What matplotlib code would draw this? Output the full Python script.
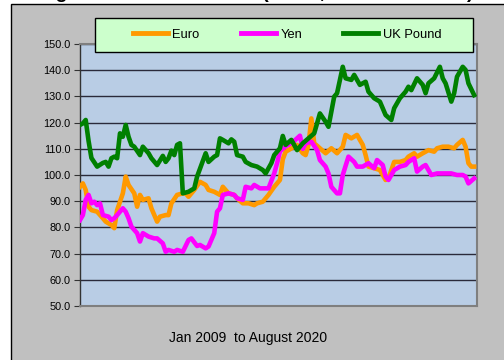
import matplotlib
matplotlib.use("Agg")
import matplotlib.pyplot as plt
from matplotlib.patches import Rectangle
from matplotlib.lines import Line2D
from matplotlib.ticker import FormatStrFormatter

plt.rcParams['font.family'] = ['Liberation Sans', 'DejaVu Sans']

# months since Jan 2009, index values
euro_months = [0, 1, 2, 3, 4, 6, 8, 9, 11, 12, 13, 15, 16, 17, 19, 20, 21, 22, 24, 25,
               27, 28, 30, 31, 32, 34, 36, 37, 38, 40, 42, 44, 45, 47, 49, 50, 52, 54, 55, 57,
               59, 61, 62, 64, 66, 68, 70, 71, 72, 73, 75, 76, 78, 79, 80, 81, 82, 84, 86, 88,
               90, 92, 93, 95, 97, 99, 100, 101, 103, 105, 107, 108, 110, 112, 114, 115, 117, 118, 120, 122,
               124, 125, 127, 129, 131, 132, 134, 135, 136, 137, 138]
euro = [95.5, 96.8, 94.3, 87.9, 86.6, 86.0, 83.5, 82.2, 80.9, 79.7, 86.6, 93.0, 99.4, 96.2, 93.0, 87.9, 92.4, 90.5, 91.1, 87.3,
        82.2, 84.1, 84.7, 84.7, 89.2, 92.4, 93.0, 93.0, 91.7, 94.3, 97.4, 96.2, 94.3, 93.6, 92.4, 95.5, 93.0, 92.4, 91.1, 89.2,
        89.2, 88.5, 89.2, 89.8, 92.4, 95.5, 98.1, 106.0, 108.9, 109.5, 110.8, 111.5, 108.3, 107.6, 111.5, 121.6, 112.1, 110.2, 108.3, 110.2,
        108.3, 110.8, 115.3, 114.0, 115.3, 111.5, 107.6, 103.2, 102.6, 101.9, 98.1, 98.7, 105.0, 105.0, 105.7, 107.0, 108.3, 107.0, 108.3, 109.5,
        108.9, 110.2, 110.8, 110.8, 110.2, 111.5, 113.4, 110.8, 104.5, 103.2, 103.2]

yen_months = [0, 1, 2, 3, 4, 5, 6, 7, 8, 10, 11, 12, 13, 15, 16, 17, 18, 20, 21, 22,
              24, 26, 27, 29, 30, 31, 33, 34, 36, 38, 39, 41, 42, 44, 45, 47, 48, 49, 50, 52,
              54, 55, 57, 58, 60, 61, 63, 65, 66, 68, 69, 70, 72, 73, 75, 77, 78, 79, 81, 83,
              84, 86, 87, 88, 90, 91, 92, 94, 96, 97, 99, 101, 103, 104, 106, 107, 108, 110, 112, 114,
              115, 117, 118, 120, 121, 123, 125, 128, 130, 132, 134, 135, 136, 138]
yen = [82.8, 84.7, 90.5, 92.4, 89.2, 89.8, 88.5, 89.2, 84.7, 84.1, 82.8, 83.5, 84.7, 87.3, 86.0, 83.5, 80.3, 77.8, 74.6, 77.8,
       76.5, 75.8, 75.8, 73.9, 70.7, 71.4, 70.7, 71.4, 70.7, 75.2, 75.8, 72.9, 73.3, 72.0, 72.7, 77.8, 86.0, 87.3, 92.4, 93.0,
       92.4, 91.1, 90.5, 95.5, 94.9, 96.2, 94.9, 94.9, 94.9, 100.6, 104.5, 109.0, 111.0, 111.5, 113.0, 115.0, 110.0, 112.1, 112.7, 109.5,
       105.7, 103.2, 100.6, 95.5, 93.0, 93.0, 100.0, 107.0, 105.0, 103.2, 103.2, 104.5, 102.6, 105.7, 103.8, 99.4, 98.1, 101.9, 103.2, 103.8,
       105.0, 106.4, 101.3, 103.2, 103.8, 100.0, 100.6, 100.6, 100.6, 100.0, 100.0, 99.4, 96.8, 98.7]

pound_months = [0, 1, 2, 3, 4, 6, 8, 9, 10, 11, 12, 13, 14, 15, 16, 17, 18, 19, 21, 22,
                24, 25, 27, 29, 30, 31, 32, 33, 34, 35, 36, 38, 40, 41, 44, 45, 47, 48, 49, 50,
                52, 53, 54, 55, 57, 58, 60, 62, 64, 65, 67, 68, 70, 71, 72, 74, 76, 78, 80, 82,
                84, 86, 87, 89, 90, 92, 93, 95, 96, 98, 100, 101, 103, 105, 107, 109, 110, 112, 114, 115,
                116, 118, 120, 121, 122, 124, 126, 127, 128, 130, 131, 132, 134, 135, 136, 138]
pound = [119.1, 119.7, 121.0, 113.0, 106.5, 103.2, 104.6, 105.0, 103.2, 106.4, 107.0, 106.4, 115.9, 114.6, 119.1, 114.6, 111.5, 110.8, 107.6, 110.8,
         108.3, 106.4, 103.8, 107.3, 105.0, 106.4, 109.3, 107.6, 111.5, 112.1, 93.0, 93.6, 94.9, 99.4, 108.3, 105.0, 107.0, 107.6, 114.0, 113.4,
         112.1, 113.6, 112.7, 107.6, 107.0, 105.0, 103.8, 103.2, 101.9, 100.6, 104.5, 107.6, 110.2, 114.9, 111.5, 113.4, 109.5, 112.1, 114.0, 115.9,
         123.5, 120.3, 118.4, 129.9, 131.2, 141.3, 136.9, 136.3, 138.2, 134.4, 135.6, 131.8, 129.3, 128.0, 122.9, 121.0, 125.5, 129.3, 131.8, 133.7,
         132.4, 136.9, 134.4, 131.2, 135.0, 136.9, 141.3, 136.9, 135.0, 128.0, 131.2, 137.5, 141.3, 140.1, 135.0, 130.5]

series = [("Euro", euro_months, euro, "#ff9900"),
          ("Yen", yen_months, yen, "#ff00ff"),
          ("UK Pound", pound_months, pound, "#008000")]

W, H = 504, 360
fig = plt.figure(figsize=(W / 100, H / 100), dpi=100, facecolor="white")

# grey chart area (cropped on the right and bottom) with black frame on top/left
fig.patches.append(Rectangle((11 / W, -0.1), 1.2, 1 - 4 / H + 0.1, transform=fig.transFigure,
                             facecolor="#c0c0c0", edgecolor="black", linewidth=1.0, zorder=-2))

# title, cut off by the top edge as in the source image
fig.text(473 / W, 1 + 1.5 / H, "Exchange Rates vs US Dollar (Index, Jan 2009 = 100)",
         ha="right", va="baseline", fontsize=14, fontweight="bold", color="black")

ax = fig.add_axes([80 / W, 1 - 306 / H, 397 / W, 262 / H])
ax.set_facecolor("#b9cde5")
for name, m, v, c in series:
    ax.plot(m, v, color=c, linewidth=3.3, solid_joinstyle="round", label=name, zorder=3)

ax.set_xlim(0, 139)
ax.set_ylim(50, 150)
ax.set_yticks(range(50, 151, 10))
ax.yaxis.set_major_formatter(FormatStrFormatter("%.1f"))
ax.set_xticks([])
ax.tick_params(axis="y", direction="out", length=4, width=0.8, color="#333333",
               labelsize=7.8, pad=3, labelcolor="black")
ax.grid(axis="y", color="#2a2a3a", linewidth=1.0, zorder=1)
ax.set_axisbelow(True)
for side in ["top", "right", "bottom"]:
    ax.spines[side].set_color("#7f7f7f")
    ax.spines[side].set_linewidth(1.5)
ax.spines["left"].set_color("#333333")
ax.spines["left"].set_linewidth(1.0)

# legend box across the top of the plot
fig.patches.append(Rectangle((95 / W, 1 - 52 / H), 378 / W, 34 / H, transform=fig.transFigure,
                             facecolor="#ccffcc", edgecolor="black", linewidth=1.0, zorder=4))
handles = [Line2D([], [], color=c, linewidth=3.5) for _, _, _, c in series]
labels = [name for name, _, _, _ in series]
leg = fig.legend(handles, labels, loc="center left", bbox_to_anchor=(133 / W, 1 - 35 / H),
                 ncol=3, frameon=False, fontsize=9.3, handlelength=2.7, handletextpad=0.35,
                 columnspacing=3.2, borderpad=0, borderaxespad=0)
leg.set_zorder(5)

fig.text(248 / W, 1 - 338 / H, "Jan 2009  to August 2020", ha="center", va="center",
         fontsize=10, color="black")

fig.savefig("out.png", dpi=100)
